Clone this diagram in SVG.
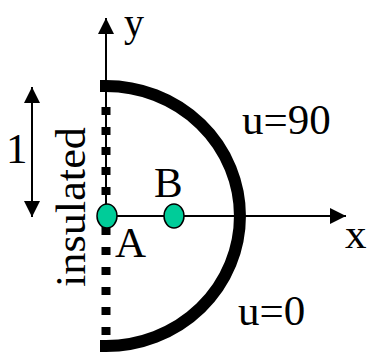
<svg xmlns="http://www.w3.org/2000/svg" width="368" height="355" viewBox="0 0 368 355">
<style>
.t{font-family:"Liberation Serif","Times New Roman",serif;font-size:43px;fill:#000}
.ax{stroke:#000;stroke-width:2;fill:none}
.pt{fill:#00CC99;stroke:#000;stroke-width:1.5}
</style>
<defs>
<marker id="ah" viewBox="0 0 16 16" refX="16" refY="8" markerWidth="16" markerHeight="16" markerUnits="userSpaceOnUse" orient="auto-start-reverse">
<path d="M0 0 L16 8 L0 16 Z" fill="#000"/>
</marker>
</defs>
<rect width="368" height="355" fill="#fff"/>
<g id="boundary">
<path d="M100 86 L106 86 A134 130 0 0 1 106 346 L100 346" fill="none" stroke="#000" stroke-width="12"/>
<line x1="106" y1="107" x2="106" y2="340" stroke="#000" stroke-width="9" stroke-dasharray="8 12"/>
</g>
<g id="connectors">
<line class="ax" x1="106" y1="216" x2="106" y2="18" marker-end="url(#ah)"/>
<line class="ax" x1="106" y1="216" x2="346" y2="216" marker-end="url(#ah)"/>
<line class="ax" x1="32" y1="87" x2="32" y2="217" marker-start="url(#ah)" marker-end="url(#ah)"/>
</g>
<g id="A">
<ellipse class="pt" cx="107" cy="216" rx="10" ry="12"/>
<text class="t" x="115" y="257">A</text>
</g>
<g id="B">
<ellipse class="pt" cx="174" cy="216" rx="10" ry="12"/>
<text class="t" x="154" y="197">B</text>
</g>
<g id="labels">
<text class="t" x="124" y="36" style="font-size:40px">y</text>
<text class="t" x="345" y="248">x</text>
<text class="t" x="6" y="163">1</text>
<text class="t" x="242" y="134">u=90</text>
<text class="t" x="238" y="325">u=0</text>
<text class="t" transform="translate(85 287) rotate(-90)" textLength="160" lengthAdjust="spacingAndGlyphs">insulated</text>
</g>
</svg>
